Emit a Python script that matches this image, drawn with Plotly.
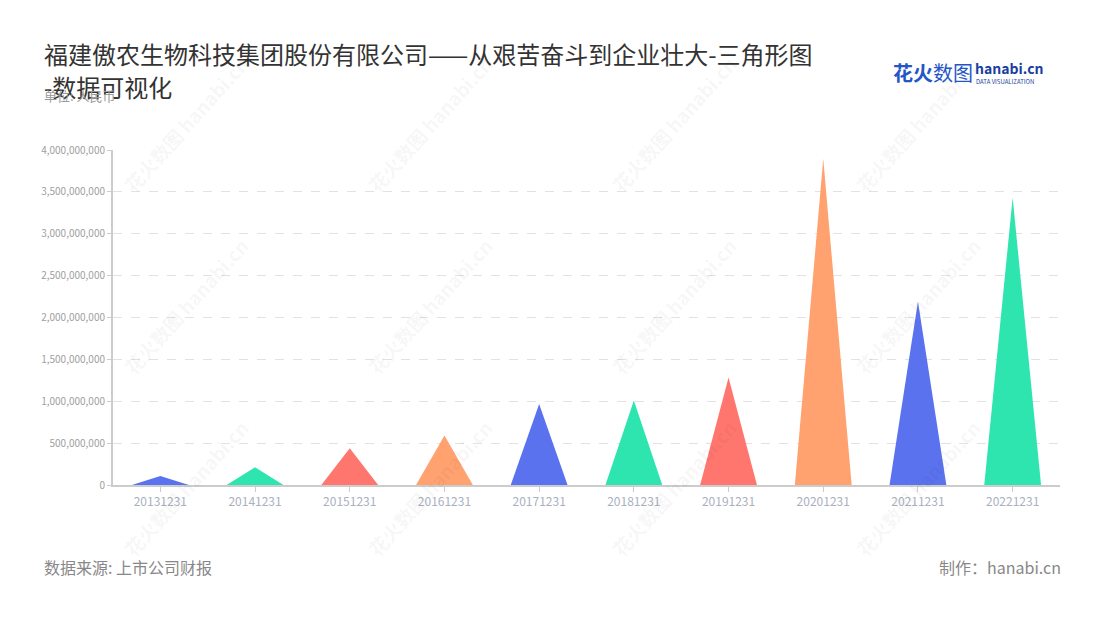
import plotly.graph_objects as go

categories = ["20131231", "20141231", "20151231", "20161231", "20171231",
              "20181231", "20191231", "20201231", "20211231", "20221231"]
values = [108e6, 212e6, 438e6, 590e6, 966e6, 1009e6, 1285e6, 3895e6, 2192e6, 3430e6]
colors = ["#5a72ee", "#2ee5b0", "#ff766f", "#ffa26f"]
y_ticks = [0, 5e8, 1e9, 1.5e9, 2e9, 2.5e9, 3e9, 3.5e9, 4e9]

FONT = "Noto Sans CJK SC"
HALF = 0.3

OFF = 8  # page body margin
W, H = 1100 - OFF, 620 - OFF
# plot area in reference (window) pixels
X0, X1, Y0, Y1 = 113, 1060, 150, 485
L, T = X0 - OFF, Y0 - OFF
R, B = W - (X1 - OFF), H - (Y1 - OFF)
PW, PH = X1 - X0, Y1 - Y0

def px(x):
    return (x - X0) / PW

def py(y):
    return (Y1 - y) / PH

fig = go.Figure()
for i, (c, v) in enumerate(zip(categories, values)):
    fig.add_trace(go.Scatter(
        x=[i - HALF, i, i + HALF, i - HALF],
        y=[0, v, 0, 0],
        mode="lines", fill="toself",
        fillcolor=colors[i % 4],
        line=dict(width=0, color=colors[i % 4]),
        name=c, hoverinfo="text",
        text=f"{c}: {v:,.0f}",
        showlegend=False,
    ))

annotations = []
# watermarks
for cx in [185, 429, 673, 917]:
    for cy in [124, 306, 488]:
        annotations.append(dict(
            x=px(cx), y=py(cy), xref="paper", yref="paper",
            text="<b>花火数图</b> <b>hanabi.cn</b>", textangle=-48,
            showarrow=False, font=dict(family=FONT, size=19, color="rgba(0,0,0,0.05)"),
            xanchor="center", yanchor="middle"))

annotations += [
    dict(x=px(42), y=py(54), xref="paper", yref="paper", xanchor="left", yanchor="middle",
         text="福建傲农生物科技集团股份有限公司——从艰苦奋斗到企业壮大-三角形图",
         showarrow=False, font=dict(family=FONT, size=24, color="#333333")),
    dict(x=px(42), y=py(86), xref="paper", yref="paper", xanchor="left", yanchor="middle",
         text="-数据可视化",
         showarrow=False, font=dict(family=FONT, size=24, color="#333333")),
    dict(x=px(42), y=py(96), xref="paper", yref="paper", xanchor="left", yanchor="middle",
         text="单位: 人民币",
         showarrow=False, font=dict(family=FONT, size=13, color="#9a9a9a")),
    dict(x=px(42), y=py(567), xref="paper", yref="paper", xanchor="left", yanchor="middle",
         text="数据来源: 上市公司财报",
         showarrow=False, font=dict(family=FONT, size=16, color="#888888")),
    dict(x=px(1063), y=py(567), xref="paper", yref="paper", xanchor="right", yanchor="middle",
         text="制作：hanabi.cn",
         showarrow=False, font=dict(family=FONT, size=16, color="#888888")),
    dict(x=px(891), y=py(72), xref="paper", yref="paper", xanchor="left", yanchor="middle",
         text="<b>花火</b>数图",
         showarrow=False, font=dict(family=FONT, size=20, color="#2456c8")),
    dict(x=px(973), y=py(68), xref="paper", yref="paper", xanchor="left", yanchor="middle",
         text="<b>hanabi.cn</b>",
         showarrow=False, font=dict(family=FONT, size=14, color="#1b3f9e")),
    dict(x=px(974), y=py(81), xref="paper", yref="paper", xanchor="left", yanchor="middle",
         text="DATA VISUALIZATION",
         showarrow=False, font=dict(family=FONT, size=6, color="#1b3f9e")),
]

fig.update_layout(
    width=W, height=H,
    margin=dict(l=L, r=R, t=T, b=B),
    plot_bgcolor="white", paper_bgcolor="white",
    font=dict(family=FONT),
    annotations=annotations,
    xaxis=dict(
        range=[-0.5, len(categories) - 0.5],
        tickmode="array", tickvals=list(range(len(categories))), ticktext=categories,
        showgrid=False, zeroline=False,
        showline=True, linecolor="#cccccc", linewidth=2,
        ticks="outside", ticklen=5, tickcolor="#cccccc",
        tickfont=dict(family=FONT, size=12, color="#a9b0c0"),
        fixedrange=True,
    ),
    yaxis=dict(
        range=[0, 4e9],
        tickmode="array", tickvals=y_ticks,
        tickformat=",.0f",
        showgrid=True, gridcolor="#e2e2e2", griddash="dash", gridwidth=1,
        zeroline=False,
        showline=True, linecolor="#cccccc", linewidth=2,
        ticks="outside", ticklen=4, tickcolor="#cccccc",
        tickfont=dict(family=FONT, size=10, color="#a0a0a0"),
        fixedrange=True,
    ),
)

fig.write_html("out.html")
